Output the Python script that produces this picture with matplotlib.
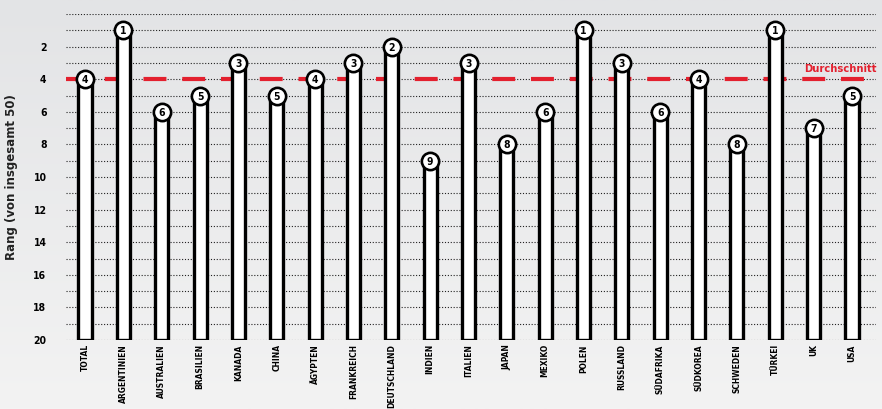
import numpy as np
import matplotlib
matplotlib.use("Agg")
import matplotlib.pyplot as plt
from matplotlib.colors import LinearSegmentedColormap

categories = ["TOTAL", "ARGENTINIEN", "AUSTRALIEN", "BRASILIEN", "KANADA", "CHINA",
              "ÄGYPTEN", "FRANKREICH", "DEUTSCHLAND", "INDIEN", "ITALIEN", "JAPAN",
              "MEXIKO", "POLEN", "RUSSLAND", "SÜDAFRIKA", "SÜDKOREA", "SCHWEDEN",
              "TÜRKEI", "UK", "USA"]
ranks = [4, 1, 6, 5, 3, 5, 4, 3, 2, 9, 3, 8, 6, 1, 3, 6, 4, 8, 1, 7, 5]
average = 4
y_ticks = [2, 4, 6, 8, 10, 12, 14, 16, 18, 20]
y_label = "Rang (von insgesamt 50)"
avg_label = "Durchschnitt"

plt.rcParams['font.family'] = ['DejaVu Sans']
plt.rcParams['font.stretch'] = 'condensed'

RED = "#e3202e"
W, H = 882, 409
fig = plt.figure(figsize=(W / 100, H / 100), dpi=100)

bg = fig.add_axes([0, 0, 1, 1], zorder=-10)
grad = np.linspace(0, 1, 256).reshape(-1, 1)
cmap = LinearSegmentedColormap.from_list("bg", ["#e3e4e6", "#f3f3f3"])
bg.imshow(grad, aspect="auto", cmap=cmap, extent=[0, 1, 0, 1])
bg.axis("off")

left, right = 66 / W, 876 / W
top, bottom = 1 - 14 / H, 1 - 340 / H
ax = fig.add_axes([left, bottom, right - left, top - bottom])
ax.set_facecolor("none")

x = np.arange(len(categories))
spacing = (852 - 85) / 20
ax.set_xlim(-(85 - 66) / spacing, 20 + (876 - 852) / spacing)
ax.set_ylim(20, 0)

for yv in range(0, 21):
    ax.axhline(yv, color="#222222", lw=0.8, ls=(0, (1, 1.6)), zorder=1)

ax.axhline(average, color=RED, lw=3.0, ls=(0, (5.5, 3.8)), zorder=2)
ax.text(ax.get_xlim()[1] + 0.02, average - 0.3, avg_label, color=RED,
        fontsize=8, fontweight="bold", ha="right", va="bottom", zorder=6)

heights = [20 - r for r in ranks]
ax.bar(x, heights, bottom=ranks, width=0.34, color="white", edgecolor="black",
       linewidth=2.4, zorder=3)
ax.scatter(x, ranks, s=155, facecolor="white", edgecolor="black", linewidth=1.9, zorder=4)
for xi, r in zip(x, ranks):
    ax.text(xi, r, str(r), ha="center", va="center_baseline", fontsize=7.5,
            fontweight="bold", zorder=5)

ax.set_yticks(y_ticks)
ax.set_yticklabels([str(t) for t in y_ticks], fontsize=7.5, fontweight="bold")
ax.set_xticks(x)
ax.set_xticklabels(categories, rotation=90, fontsize=6.0, fontweight="bold", va="top")
ax.tick_params(length=0)
ax.tick_params(axis="x", pad=3)
ax.tick_params(axis="y", pad=14)
for s in ax.spines.values():
    s.set_visible(False)

fig.text(12 / W, 1 - 177 / H, y_label, rotation=90, ha="center", va="center",
         fontsize=8.5, fontweight="bold", fontstretch="normal", color="#222222")

fig.savefig("out.png", dpi=100)
